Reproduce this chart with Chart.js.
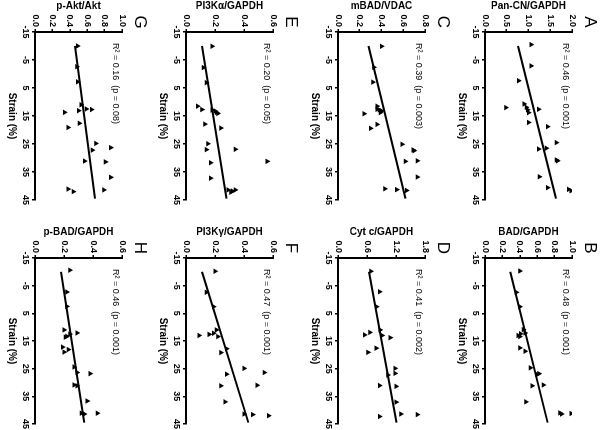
<!DOCTYPE html>
<html>
<head>
<meta charset="utf-8">
<script src="https://cdn.jsdelivr.net/npm/chart.js@4/dist/chart.umd.min.js"></script>
<style>
  html, body { margin: 0; padding: 0; background: #fff; overflow: hidden; }
  #fig {
    position: absolute; left: 0; top: 0; width: 430px; height: 600px;
    transform-origin: 0 0; transform: translate(600px, 0) rotate(90deg);
  }
  #fig canvas { position: absolute; }
</style>
</head>
<body>
<div id="fig"></div>
<script>
// strain (%) on x, protein ratio on y, one pair of arrays per panel
const strainTicks = [-15, -5, 5, 15, 25, 35, 45];
const fitStrain = [-10, 44.5];

const strainA = [-10.5, -2.9, 2.4, 10.7, 11.9, 12, 12.6, 12.8, 13.8, 17.3, 18.8, 24.5, 26.5, 26.8, 30.7, 31, 36.7, 40.6, 41.2, 41.7];
const valueA  = [1.06, 1.06, 0.77, 0.90, 0.95, 0.48, 1.23, 0.98, 1.00, 1.00, 1.44, 1.64, 1.41, 1.23, 1.64, 1.67, 1.25, 1.44, 1.92, 1.98];
const strainB = [-10.3, -2.6, 2.6, 10.9, 12.1, 12.4, 13, 13.4, 17.5, 18.7, 24.7, 26.8, 27.1, 30.9, 31.2, 37, 41, 41.4, 41.2];
const valueB  = [0.40, 0.36, 0.40, 0.44, 0.46, 0.41, 0.38, 0.40, 0.40, 0.46, 0.52, 0.62, 0.60, 0.67, 0.54, 0.47, 0.86, 0.88, 0.99];
const strainC = [-9.9, -2.4, 2.9, 11.5, 12.6, 12.8, 13.2, 13.8, 14.2, 18, 19.4, 25.1, 27.1, 27.4, 31, 31.2, 36.8, 41, 41.3, 41.6];
const valueC  = [0.40, 0.33, 0.32, 0.36, 0.36, 0.38, 0.40, 0.39, 0.24, 0.36, 0.30, 0.59, 0.69, 0.70, 0.73, 0.62, 0.73, 0.43, 0.54, 0.63];
const strainD = [-10.2, -2.8, 2.6, 11, 11.9, 12.8, 13, 13.8, 17.6, 19.1, 24.9, 26.7, 27.3, 31.1, 31.4, 37.1, 42.3, 41.4, 41.6];
const valueD  = [0.68, 0.86, 0.80, 0.87, 0.66, 0.55, 0.91, 1.08, 0.79, 0.62, 1.18, 1.18, 1.03, 0.86, 1.20, 1.20, 0.86, 1.30, 1.64];
const strainE = [-9.9, -2.3, 3.1, 11.5, 12.7, 12.9, 13.2, 13.7, 14.1, 17.9, 19.3, 24.9, 27, 26.9, 31.2, 31.7, 37.2, 41.4, 41.8, 41.4, 42.2];
const valueE  = [0.18, 0.12, 0.14, 0.08, 0.11, 0.18, 0.20, 0.21, 0.22, 0.13, 0.24, 0.15, 0.14, 0.34, 0.56, 0.17, 0.17, 0.29, 0.32, 0.34, 0.31];
const strainF = [-10.2, -2.6, 2.6, 11, 12.2, 12.6, 13.4, 13, 17.8, 19.2, 24.9, 26.4, 27, 31, 31.2, 37, 41.4, 41.6, 42];
const valueF  = [0.20, 0.14, 0.19, 0.21, 0.19, 0.16, 0.22, 0.09, 0.28, 0.24, 0.40, 0.54, 0.28, 0.49, 0.24, 0.27, 0.40, 0.46, 0.57];
const strainG = [-10, -2.6, 2.8, 11, 12.7, 12.5, 13.1, 13.7, 17.6, 19.1, 24.8, 26.3, 27.2, 31.1, 31.4, 36.9, 41.4, 41.1, 42];
const valueG  = [0.49, 0.48, 0.49, 0.53, 0.65, 0.59, 0.50, 0.34, 0.51, 0.38, 0.70, 0.87, 0.66, 0.57, 0.81, 0.87, 0.79, 0.38, 0.44];
const strainH = [-10.6, -2.7, 2.5, 11, 12.1, 12.5, 13.3, 13.6, 17.2, 18.1, 19, 24.4, 26.8, 26.4, 30.9, 31.2, 36.7, 41.1, 41.1, 41.4];
const valueH  = [0.24, 0.22, 0.22, 0.20, 0.29, 0.24, 0.22, 0.21, 0.19, 0.23, 0.20, 0.27, 0.38, 0.29, 0.27, 0.29, 0.36, 0.43, 0.32, 0.34];

// regression line values at fitStrain ends
const fitA = [0.76, 1.63];
const fitB = [0.29, 0.72];
const fitC = [0.28, 0.62];
const fitD = [0.64, 1.21];
const fitE = [0.11, 0.28];
const fitF = [0.11, 0.43];
const fitG = [0.46, 0.69];
const fitH = [0.18, 0.34];

const ticksA = [0, 0.5, 1.0, 1.5, 2.0];
const ticksB = [0, 0.2, 0.4, 0.6, 0.8, 1.0];
const ticksC = [0, 0.2, 0.4, 0.6, 0.8];
const ticksD = [0, 0.6, 1.2, 1.8];
const ticksE = [0, 0.2, 0.4, 0.6];
const ticksF = [0, 0.2, 0.4, 0.6];
const ticksG = [0, 0.2, 0.4, 0.6, 0.8, 1.0];
const ticksH = [0, 0.2, 0.4, 0.6];

const letters = ['A', 'B', 'C', 'D', 'E', 'F', 'G', 'H'];
const titles = ['Pan-CN/GAPDH', 'BAD/GAPDH', 'mBAD/VDAC', 'Cyt c/GAPDH', 'PI3K\u03b1/GAPDH', 'PI3K\u03b3/GAPDH', 'p-Akt/Akt', 'p-BAD/GAPDH'];
const stats = [
  'R\u00b2 = 0.46  (p = 0.001)', 'R\u00b2 = 0.48  (p = 0.001)',
  'R\u00b2 = 0.39  (p = 0.003)', 'R\u00b2 = 0.41  (p = 0.002)',
  'R\u00b2 = 0.20  (p = 0.05)',  'R\u00b2 = 0.47  (p = 0.001)',
  'R\u00b2 = 0.16  (p = 0.08)',  'R\u00b2 = 0.46  (p = 0.001)'
];

const panels = [
  [strainA, valueA, fitA, ticksA], [strainB, valueB, fitB, ticksB],
  [strainC, valueC, fitC, ticksC], [strainD, valueD, fitD, ticksD],
  [strainE, valueE, fitE, ticksE], [strainF, valueF, fitF, ticksF],
  [strainG, valueG, fitG, ticksG], [strainH, valueH, fitH, ticksH]
];

const FONT = "'Liberation Sans', Arial, sans-serif";
const CELL_W = 215, CELL_H = 150;
const Y_W = 32, X_H = 32;
const chartLeft = [32, 43], chartRight = [200, 210];
const chartTop = [28, 25, 27, 28], chartBottom = [115, 112, 114, 115];

const labelPlugin = {
  id: 'panelLabels',
  afterDraw(chart) {
    const ctx = chart.ctx, a = chart.chartArea, i = chart.options.panelIndex;
    ctx.save();
    ctx.fillStyle = '#000';
    ctx.textBaseline = 'middle';
    ctx.textAlign = 'left';
    ctx.font = '9px ' + FONT;
    ctx.fillText(stats[i], a.left + 11, a.top + 7);
    ctx.textAlign = 'center';
    ctx.font = '17px ' + FONT;
    ctx.fillText(letters[i], a.left - 10, a.top - 18);
    ctx.restore();
  }
};

const fig = document.getElementById('fig');
panels.forEach(function (p, i) {
  const col = i % 2, row = Math.floor(i / 2);
  const cv = document.createElement('canvas');
  cv.width = CELL_W; cv.height = CELL_H;
  cv.style.left = (col * CELL_W) + 'px';
  cv.style.top = (row * CELL_H) + 'px';
  fig.appendChild(cv);

  const pts = p[0].map((s, k) => ({ x: s, y: p[1][k] }));
  const fit = fitStrain.map((s, k) => ({ x: s, y: p[2][k] }));
  const yt = p[3];

  new Chart(cv.getContext('2d'), {
    type: 'scatter',
    data: {
      datasets: [{
        data: pts,
        pointStyle: 'triangle',
        pointRadius: 3.2,
        backgroundColor: '#000',
        borderColor: '#000',
        borderWidth: 0
      }, {
        data: fit,
        showLine: true,
        borderColor: '#000',
        borderWidth: 2,
        pointRadius: 0,
        fill: false
      }]
    },
    options: {
      panelIndex: i,
      responsive: false,
      animation: false,
      devicePixelRatio: 1,
      layout: {
        padding: {
          left: chartLeft[col] - Y_W,
          right: CELL_W - chartRight[col],
          top: chartTop[row],
          bottom: CELL_H - chartBottom[row] - X_H
        }
      },
      plugins: { legend: { display: false }, tooltip: { enabled: false } },
      scales: {
        x: {
          type: 'linear', min: -15, max: 45,
          afterBuildTicks: s => { s.ticks = strainTicks.map(v => ({ value: v })); },
          afterFit: s => { s.height = X_H; },
          grid: { drawOnChartArea: false, tickLength: 3, color: '#000', lineWidth: 1.5 },
          border: { color: '#000', width: 2 },
          ticks: { color: '#000', padding: 1, maxRotation: 0, autoSkip: false, font: { family: FONT, size: 9, weight: 'bold' } },
          title: { display: true, text: 'Strain (%)', color: '#000', padding: { top: 1, bottom: 3 }, font: { family: FONT, size: 10, weight: 'bold' } }
        },
        y: {
          min: 0, max: yt[yt.length - 1],
          afterBuildTicks: s => { s.ticks = yt.map(v => ({ value: v })); },
          afterFit: s => { s.width = Y_W; },
          grid: { drawOnChartArea: false, tickLength: 3, color: '#000', lineWidth: 1.5 },
          border: { color: '#000', width: 2 },
          ticks: { color: '#000', padding: 2, autoSkip: false, callback: v => v.toFixed(1), font: { family: FONT, size: 9, weight: 'bold' } },
          title: { display: true, text: titles[i], color: '#000', padding: 0, font: { family: FONT, size: 10, weight: 'bold' } }
        }
      }
    },
    plugins: [labelPlugin]
  });
});
</script>
</body>
</html>
